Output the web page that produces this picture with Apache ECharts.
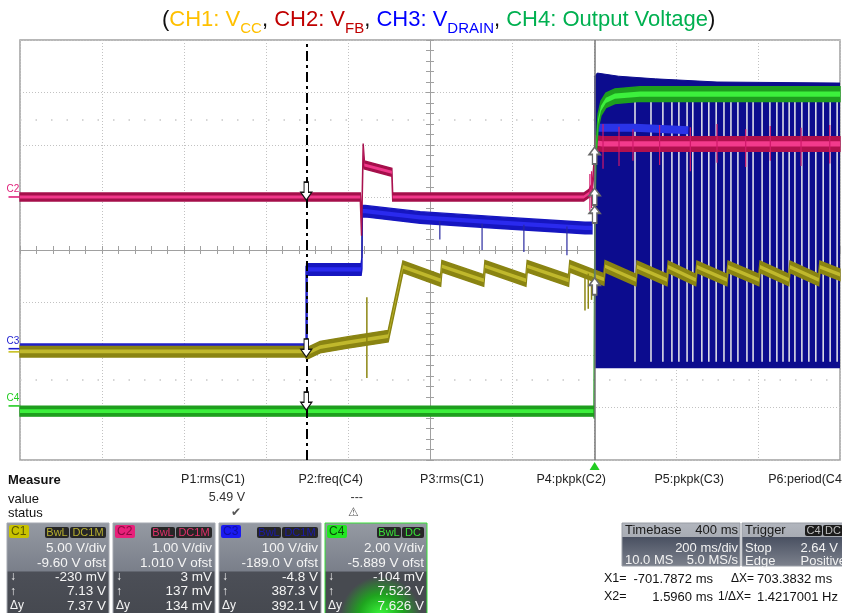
<!DOCTYPE html>
<html>
<head>
<meta charset="utf-8">
<title>start-up capture</title>
<script src="https://cdn.jsdelivr.net/npm/echarts@6/dist/echarts.min.js"></script>
<style>
html,body{margin:0;padding:0;background:#fff;}
#scope{width:842px;height:613px;}
</style>
</head>
<body>
<div id="scope"></div>
<script>
// time in ms (trigger = 0, 200 ms/div), level in screen divisions (-4..4)
var timeMin = -1400, timeMax = 600, timeStep = 200;
var divMin = -4, divMax = 4;

// CH1 Vcc (olive)
var ch1Vcc = [[-1400,-1.93],[-705,-1.93],[-700,-1.97],[-668,-1.85],[-600,-1.76],[-502,-1.64],[-466,-0.32],
	[-374,-0.58],[-371,-0.31],[-269,-0.58],[-266,-0.31],[-166,-0.58],[-163,-0.31],[-62,-0.58],[-59,-0.31],
	[24,-0.56],[27,-0.31],[102,-0.57],[105,-0.32],[178,-0.57],[181,-0.32],[248,-0.57],[251,-0.32],
	[324,-0.57],[327,-0.32],[402,-0.57],[405,-0.32],[475,-0.57],[478,-0.32],[548,-0.57],[551,-0.32],[600,-0.47]];
var ch1Spikes = [[-554,-0.9,-2.44],[-22,-0.5,-1.15],[-14,-0.45,-1.12],[-6,-0.5,-0.95]];

// CH2 Vfb (magenta)
var ch2Idle = [[-1400,1.01],[-570,1.01],[-567,0.35],[-563,1.95],[-560,1.62],[-493,1.48],[-491,1.01],
	[-25,1.01],[-12,1.08],[-4,1.2],[0,1.6]];
var ch2Run = [[0,1.6],[3,2.04],[20,2.02],[600,2.02]];
var ch2Spikes = [[22,2.4,1.55],[61,2.35,1.6],[95,2.3,1.7],[160,2.38,1.62],[235,2.34,1.5],[300,2.4,1.66],
	[370,2.3,1.58],[430,2.36,1.7],[505,2.33,1.6],[575,2.38,1.65],[-10,1.45,0.75],[-6,1.5,0.8]];

// CH3 Vdrain (blue)
var ch3Low = [[-1400,-1.8],[-701,-1.8],[-701,-0.3]];
var ch3Boot = [[-701,-0.37],[-568,-0.37],[-566,-0.25],[-565,0.74],[-558,0.74],[-424,0.62],[-229,0.52],[-22,0.42],[-5,0.42]];
var ch3SlopeSpikes = [[-376,0.55,0.2],[-273,0.5,0.0],[-171,0.48,-0.04],[-66,0.45,-0.1],[-566,0.6,-0.15]];
var ch3Run = [[0.5,3.3],[8,3.37],[60,3.31],[150,3.26],[300,3.2],[600,3.18]];
var ch3Floor = -2.25;
var ch3Streak = [[8,2.33],[100,2.33],[230,2.28]];
var ch3Gaps = [100,139,168,190,207,227,241,263,280,298,317,334,351,373,388,410,429,446,461,476,490,507,524,541,559,576,593];

// CH4 output voltage (green)
var ch4Idle = [[-1400,-3.07],[0,-3.07]];
var ch4Rise = [[0,-3.07],[2.4,0.9],[5,1.9],[10,2.45],[17,2.7],[29,2.85],[51,2.93],[112,2.97],[600,2.97]];

// cursors
var cursorX1 = -701.8, cursorX2 = 1.6;

var chanInfo = [
	{name:'C1', x:7, tag:'#c9c300', tagText:'#5a5600', cpl:['BwL','DC1M'], cplColor:'#b4ac2e', rows:['5.00 V/div','-9.60 V ofst'], meas:['-230 mV','7.13 V','7.37 V']},
	{name:'C2', x:113, tag:'#e8207a', tagText:'#8a0a40', cpl:['BwL','DC1M'], cplColor:'#e0306a', rows:['1.00 V/div','1.010 V ofst'], meas:['3 mV','137 mV','134 mV']},
	{name:'C3', x:219, tag:'#1a1af0', tagText:'#1010a0', cpl:['BwL','DC1M'], cplColor:'#1a1aa8', rows:['100 V/div','-189.0 V ofst'], meas:['-4.8 V','387.3 V','392.1 V']},
	{name:'C4', x:325, tag:'#22e622', tagText:'#0a4a0a', cpl:['BwL','DC'], cplColor:'#38e038', rows:['2.00 V/div','-5.889 V ofst'], meas:['-104 mV','7.522 V','7.626 V'], glow:true}
];
var measureCols = ['P1:rms(C1)','P2:freq(C4)','P3:rms(C1)','P4:pkpk(C2)','P5:pkpk(C3)','P6:period(C4)'];
var measureVals = ['5.49 V','---','','','',''];
var measureStatus = ['\u2714','\u26A0','','','',''];

var FONT = 'Liberation Sans, Arial, sans-serif';
var downArrow = 'path://M3,0 L7,0 L7,9 L10,9 L5,16 L0,9 L3,9 Z';
var upArrow = 'path://M5,0 L10,7 L7,7 L7,16 L3,16 L3,7 L0,7 Z';

var chart = echarts.init(document.getElementById('scope'));

function band(data, width, color, z) {
	return {type:'line', data:data, showSymbol:false, symbol:'none', silent:true, z:z, animation:false,
		lineStyle:{width:width, color:color}, itemStyle:{color:color}};
}
// noisy trace drawn as an envelope: outer band + brighter core, vertical edges stay thin
function envelope(data, half, core, outerColor, coreColor, z) {
	return {type:'custom', data:[data[0]], silent:true, z:z, animation:false,
		renderItem:function(params, api){
			var up = [], lo = [], cu = [], cl = [];
			data.forEach(function(p){
				up.push(api.coord([p[0], p[1] + half]));
				lo.unshift(api.coord([p[0], p[1] - half]));
				cu.push(api.coord([p[0], p[1] + core]));
				cl.unshift(api.coord([p[0], p[1] - core]));
			});
			return {type:'group', children:[
				{type:'polygon', shape:{points:up.concat(lo)}, style:{fill:outerColor, stroke:outerColor, lineWidth:1.4}},
				{type:'polygon', shape:{points:cu.concat(cl)}, style:{fill:coreColor}}
			]};
		}};
}
function spikes(data, color, width, z) {
	return {type:'custom', data:data, silent:true, z:z, animation:false,
		renderItem:function(params, api){
			var a = api.coord([api.value(0), api.value(1)]);
			var b = api.coord([api.value(0), api.value(2)]);
			return {type:'line', shape:{x1:a[0], y1:a[1], x2:b[0], y2:b[1]}, style:{stroke:color, lineWidth:width}};
		}};
}
function txt(x, y, s, color, size, align, weight) {
	return {type:'text', x:x, y:y, silent:true, z:100, style:{text:s, fill:color, font:(weight||'normal') + ' ' + size + 'px ' + FONT,
		align:align||'left', textAlign:align||'left', verticalAlign:'middle', textVerticalAlign:'middle'}};
}
function box(x, y, w, h, fill, stroke, r) {
	return {type:'rect', silent:true, z:90, shape:{x:x, y:y, width:w, height:h, r:r||0},
		style:{fill:fill, stroke:stroke||null, lineWidth:1}};
}

// bottom panel
var panel = [];
panel.push(txt(8, 480, 'Measure', '#111', 13, 'left', 'bold'));
panel.push(txt(8, 499, 'value', '#111', 13));
panel.push(txt(8, 513, 'status', '#111', 13));
var colRight = [245,363,484,606,724,846];
for (var i = 0; i < measureCols.length; i++) {
	panel.push(txt(colRight[i], 480, measureCols[i], '#222', 12.5, 'right'));
	if (measureVals[i]) panel.push(txt(colRight[i], 498, measureVals[i], '#333', 12.5, 'right'));
	if (measureStatus[i]) panel.push(txt(colRight[i] - 4, 513, measureStatus[i], '#555', 12, 'right'));
}
chanInfo.forEach(function(c){
	var w = 102, x = c.x;
	panel.push(box(x, 523, w, 95, {type:'linear', x:0, y:0, x2:0, y2:1, colorStops:[{offset:0, color:'#959aa3'},{offset:0.5, color:'#7a7f8a'},{offset:0.52, color:'#4c4f57'},{offset:1, color:'#45484f'}]}, c.glow ? '#36e036' : '#a4a8b0'));
	if (c.glow) {
		panel.push(box(x + 1, 572, w - 2, 45, {type:'radial', x:0.55, y:1, r:0.9, colorStops:[{offset:0, color:'#3cff3c'},{offset:0.55, color:'#1fa41f'},{offset:1, color:'#474a50'}]}));
	}
	panel.push(box(x + 2, 525, 20, 13, c.tag, null, 2));
	panel.push(txt(x + 4, 531.5, c.name, c.tagText, 12));
	var bw = c.cpl[1] === 'DC' ? 22 : 36;
	panel.push(box(x + w - bw - 3, 527, bw, 11, '#262626', null, 2));
	panel.push(txt(x + w - 3 - bw / 2, 532.5, c.cpl[1], c.cplColor, 11, 'center'));
	panel.push(box(x + w - bw - 28, 527, 24, 11, '#262626', null, 2));
	panel.push(txt(x + w - bw - 16, 532.5, c.cpl[0], c.cplColor, 11, 'center'));
	panel.push(txt(x + w - 3, 548, c.rows[0], '#f4f4f4', 13.5, 'right'));
	panel.push(txt(x + w - 3, 563, c.rows[1], '#f4f4f4', 13.5, 'right'));
	var sym = ['\u2193','\u2191','\u0394y'];
	for (var k = 0; k < 3; k++) {
		panel.push(txt(x + 3, 577 + k * 14.5, sym[k], '#f4f4f4', 12));
		panel.push(txt(x + w - 3, 577 + k * 14.5, c.meas[k], '#f4f4f4', 13.5, 'right'));
	}
});
// timebase / trigger
var grad = {type:'linear', x:0, y:0, x2:0, y2:1, colorStops:[{offset:0, color:'#b2b6be'},{offset:0.33, color:'#a8acb4'},{offset:0.34, color:'#4a5162'},{offset:1, color:'#7d828d'}]};
panel.push(box(622, 523, 118, 43, grad, '#9a9ea6'));
panel.push(box(742, 523, 104, 43, grad, '#9a9ea6'));
panel.push(txt(625, 530, 'Timebase', '#1a1a1a', 13));
panel.push(txt(738, 530, '400 ms', '#1a1a1a', 13, 'right'));
panel.push(txt(738, 548, '200 ms/div', '#f2f2f2', 13, 'right'));
panel.push(txt(625, 560, '10.0 MS', '#f2f2f2', 13));
panel.push(txt(738, 560, '5.0 MS/s', '#f2f2f2', 13, 'right'));
panel.push(txt(745, 530, 'Trigger', '#1a1a1a', 13));
panel.push(box(805, 525, 17, 11, '#1c1c1c', null, 2));
panel.push(txt(813.5, 530.5, 'C4', '#bdbdbd', 11, 'center'));
panel.push(box(823, 525, 20, 11, '#1c1c1c', null, 2));
panel.push(txt(825, 530.5, 'DC', '#bdbdbd', 11));
panel.push(txt(745, 548, 'Stop', '#f2f2f2', 13));
panel.push(txt(838, 548, '2.64 V', '#f2f2f2', 13, 'right'));
panel.push(txt(745, 561, 'Edge', '#f2f2f2', 13));
panel.push(txt(846, 561, 'Positive', '#f2f2f2', 13, 'right'));
panel.push(txt(604, 579, 'X1=', '#111', 12.5));
panel.push(txt(713, 579, '-701.7872 ms', '#111', 13, 'right'));
panel.push(txt(731, 579, '\u0394X=', '#111', 12));
panel.push(txt(757, 579, '703.3832 ms', '#111', 13));
panel.push(txt(604, 597, 'X2=', '#111', 12.5));
panel.push(txt(713, 597, '1.5960 ms', '#111', 13, 'right'));
panel.push(txt(718, 597, '1/\u0394X=', '#111', 12));
panel.push(txt(757, 597, '1.4217001 Hz', '#111', 13));

var gapData = ch3Gaps.map(function(t){ return [t, 2.86, ch3Floor + 0.12]; });
var chLabel = function(v, text, color, showLabel) {
	return {coord:[timeMin, v], symbol:'rect', symbolSize:[11,1.6], symbolOffset:[-6,0], itemStyle:{color:color},
		label:{show:showLabel, formatter:text, position:'top', distance:2, offset:[-1,0], color:color, fontSize:10, fontFamily:FONT}};
};
var arrowDown = function(v){
	return {coord:[cursorX1, v], symbol:downArrow, symbolSize:[11,18], symbolOffset:[0,'-50%'], itemStyle:{color:'#fff', borderColor:'#111', borderWidth:1.2}};
};
var arrowUp = function(v){
	return {coord:[cursorX2, v], symbol:upArrow, symbolSize:[11,17], symbolOffset:[0,'50%'], itemStyle:{color:'#fff', borderColor:'#6a6a6a', borderWidth:1.6}};
};

var richBase = {fontSize:22, fontFamily:FONT, fontWeight:'normal', lineHeight:27, verticalAlign:'top'};
var richSub = {fontSize:15, fontFamily:FONT, fontWeight:'normal', lineHeight:17, padding:[12,0,0,0], verticalAlign:'top'};
function rich(base, color) { return Object.assign({}, base, {color:color}); }

var option = {
	animation:false,
	backgroundColor:'#fff',
	title:{
		left:157, top:4,
		text:'{p|(}{c1|CH1: V}{c1s|CC}{p|, }{c2|CH2: V}{c2s|FB}{p|, }{c3|CH3: V}{c3s|DRAIN}{p|, }{c4|CH4: Output Voltage}{p|)}',
		textStyle:{fontWeight:'normal', rich:{
			p:rich(richBase, '#111'),
			c1:rich(richBase, '#ffc000'), c1s:rich(richSub, '#ffc000'),
			c2:rich(richBase, '#c00000'), c2s:rich(richSub, '#c00000'),
			c3:rich(richBase, '#0000ff'), c3s:rich(richSub, '#0000ff'),
			c4:rich(richBase, '#00b050')
		}}
	},
	grid:{left:20, top:40, width:820, height:420, show:true, borderColor:'#a0a0a0', borderWidth:1.5, backgroundColor:'#fff'},
	xAxis:[
		{type:'value', min:timeMin, max:timeMax, interval:timeStep, axisLine:{show:false}, axisTick:{show:false}, axisLabel:{show:false},
			splitLine:{show:true, lineStyle:{color:'#c2c2c2', type:[1,2], width:1}}},
		{type:'value', min:-5, max:5, interval:1, axisLabel:{show:false}, splitLine:{show:false},
			axisLine:{show:true, onZero:true, onZeroAxisIndex:0, lineStyle:{color:'#a0a0a0', width:1}},
			axisTick:{show:true, inside:true, length:4, lineStyle:{color:'#a0a0a0'}},
			minorTick:{show:true, splitNumber:5, length:4, lineStyle:{color:'#a0a0a0'}}},
		{type:'value', min:-5, max:5, interval:1, axisLabel:{show:false}, splitLine:{show:false},
			axisLine:{show:false, onZero:true, onZeroAxisIndex:0},
			axisTick:{show:true, inside:false, length:4, lineStyle:{color:'#a0a0a0'}},
			minorTick:{show:true, splitNumber:5, length:4, lineStyle:{color:'#a0a0a0'}}}
	],
	yAxis:[
		{type:'value', min:divMin, max:divMax, interval:1, axisLine:{show:false}, axisTick:{show:false}, axisLabel:{show:false},
			splitLine:{show:true, lineStyle:{color:'#c2c2c2', type:[1,2], width:1}}},
		{type:'value', min:divMin, max:divMax, interval:1, axisLabel:{show:false}, splitLine:{show:false},
			axisLine:{show:true, onZero:true, onZeroAxisIndex:1, lineStyle:{color:'#a0a0a0', width:1}},
			axisTick:{show:true, inside:true, length:4, lineStyle:{color:'#a0a0a0'}},
			minorTick:{show:true, splitNumber:5, length:4, lineStyle:{color:'#a0a0a0'}}},
		{type:'value', min:divMin, max:divMax, interval:1, axisLabel:{show:false}, splitLine:{show:false},
			axisLine:{show:false, onZero:true, onZeroAxisIndex:1},
			axisTick:{show:true, inside:false, length:4, lineStyle:{color:'#a0a0a0'}},
			minorTick:{show:true, splitNumber:5, length:4, lineStyle:{color:'#a0a0a0'}}}
	],
	graphic:panel,
	series:[
		{type:'line', data:[], silent:true, z:1, markLine:{z:1, symbol:'none', silent:true, animation:false, label:{show:false},
			data:[{yAxis:2.48, lineStyle:{color:'#c8c8c8', type:[1.5,14], width:1.5}},{yAxis:-2.48, lineStyle:{color:'#c8c8c8', type:[1.5,14], width:1.5}}]}},
		{type:'line', data:ch3Run, showSymbol:false, symbol:'none', silent:true, z:2, animation:false,
			lineStyle:{width:1, color:'#0c0c8e'}, areaStyle:{color:'#0c0c8e', opacity:1, origin:ch3Floor}},
		spikes(gapData, '#dcdce6', 1.6, 3),
		band(ch3Streak, 8, '#2a34e8', 3),
		envelope(ch1Vcc, 0.11, 0.035, '#8a8412', '#c0b82c', 4),
		spikes(ch1Spikes, '#8c8612', 1.5, 5),
		envelope(ch3Boot, 0.11, 0.04, '#1616c0', '#2a2aee', 6),
		band(ch3Low, 2.5, '#2020c8', 6),
		spikes(ch3SlopeSpikes, '#2a2aa0', 1.2, 6),
		envelope(ch2Idle, 0.076, 0.028, '#a50f4b', '#f0388a', 7),
		envelope(ch2Run, 0.14, 0.05, '#b0104e', '#f23a8c', 7),
		spikes(ch2Spikes, '#d0186a', 1.2, 8),
		envelope(ch4Idle, 0.095, 0.035, '#1e9e1e', '#3cf03c', 9),
		envelope(ch4Rise, 0.14, 0.05, '#1e9e1e', '#3cf03c', 9),
		{type:'line', data:[], silent:true, z:12,
			markLine:{z:15, symbol:'none', silent:true, animation:false, label:{show:false}, data:[
				{xAxis:cursorX1, lineStyle:{color:'#000', width:2, type:[10,4,3,4]}},
				{xAxis:cursorX2, lineStyle:{color:'#777', width:1.5, type:'solid'}}
			]},
			markPoint:{z:20, silent:true, animation:false, data:[
				arrowDown(0.95), arrowDown(-2.04), arrowDown(-3.05),
				arrowUp(1.96), arrowUp(1.18), arrowUp(0.84), arrowUp(-0.53),
				{coord:[cursorX2, divMin], symbol:'triangle', symbolSize:[10,8], symbolOffset:[0,6], itemStyle:{color:'#22cc22'}},
				chLabel(1.01, 'C2', '#e0207a', true),
				chLabel(-1.88, 'C3', '#1c1cd0', true),
				chLabel(-1.94, '', '#c8c020', false),
				chLabel(-2.97, 'C4', '#22cc22', true)
			]}}
	]
};
chart.setOption(option);
</script>
</body>
</html>
